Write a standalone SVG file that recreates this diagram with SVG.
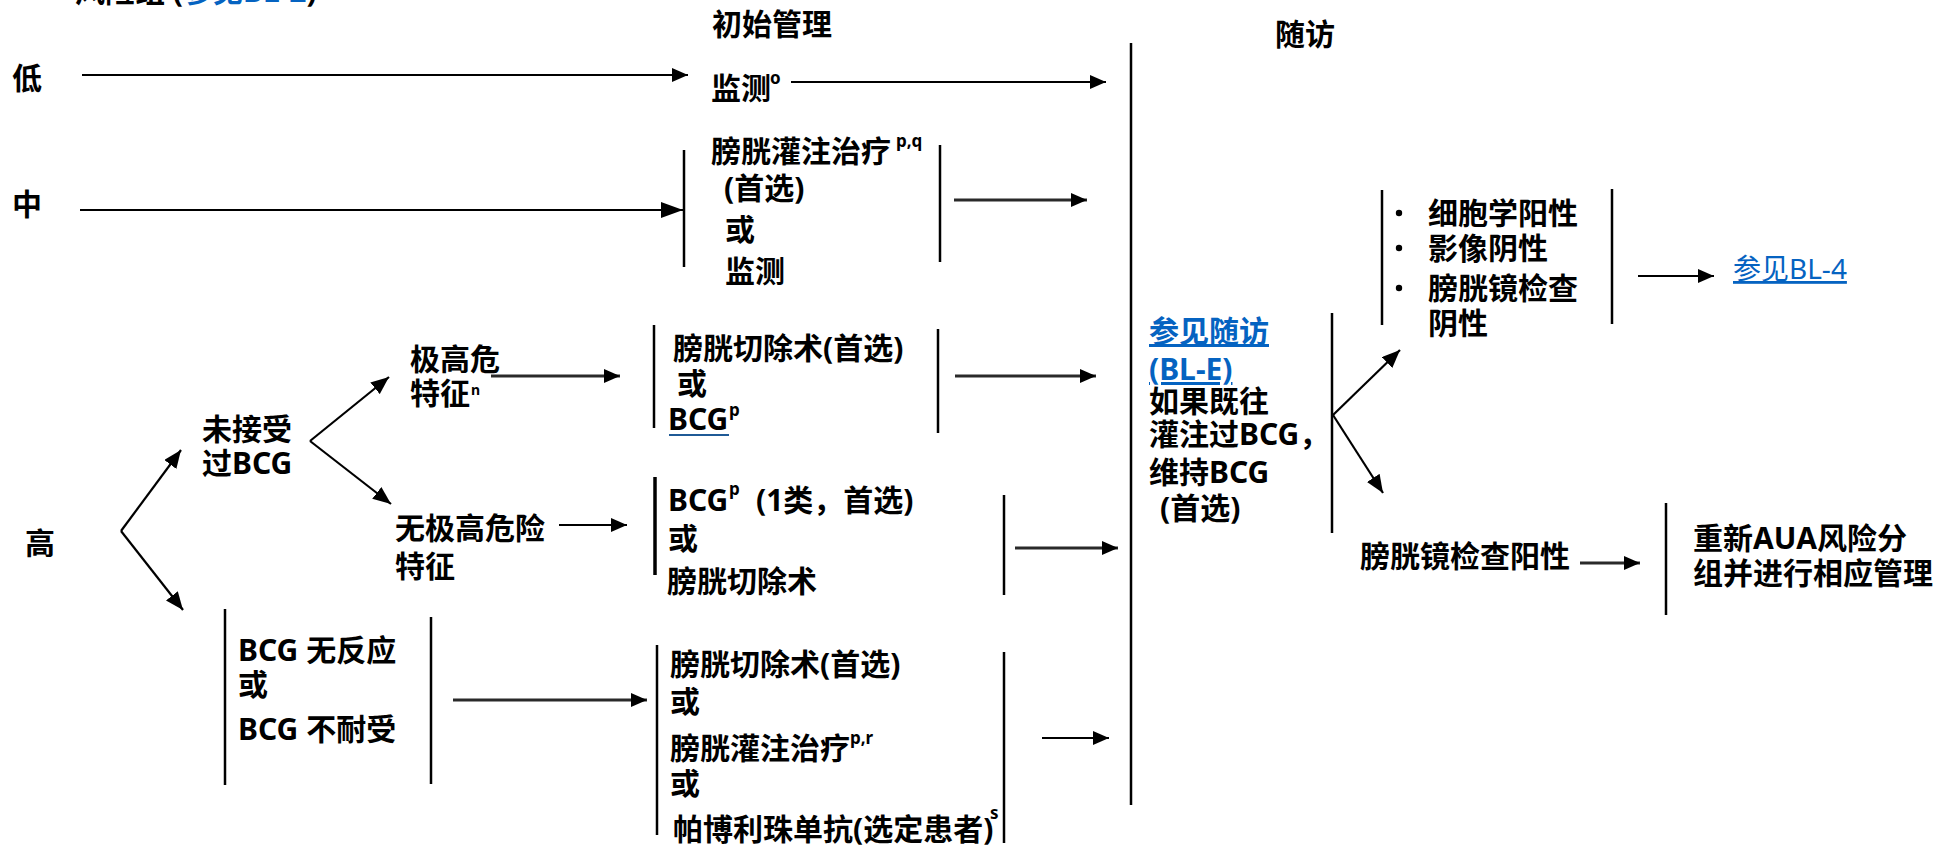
<svg xmlns="http://www.w3.org/2000/svg" width="1955" height="846" viewBox="0 0 1955 846">
<style>
  .t { font-family: "Noto Sans", "Noto Sans CJK SC", sans-serif; font-weight: bold; font-size: 30px; fill: #000; }
  .sup { font-family: "Noto Sans", sans-serif; font-weight: bold; font-size: 17px; fill: #000; }
  .lk { fill: #0563C1; }
  .lkr { font-family: "Noto Sans", "Noto Sans CJK SC", sans-serif; font-weight: normal; font-size: 28px; fill: #0563C1; }
  .bar { stroke: #000; stroke-width: 2.5; fill: none; }
  .ul { stroke: #1f5a96; stroke-width: 2; }
  .c { stroke: #000; stroke-width: 2.2; fill: none; marker-end: url(#ah); }
  .cg { stroke: #2a2a2a; stroke-width: 2.8; fill: none; marker-end: url(#ah); }
</style>
<defs>
  <marker id="ah" viewBox="0 0 16 14" refX="16" refY="7" markerWidth="16" markerHeight="14" markerUnits="userSpaceOnUse" orient="auto">
    <path d="M0,0 L16,7 L0,14 z" fill="#000"/>
  </marker>
  <marker id="ahd" viewBox="0 0 18 15" refX="18" refY="7.5" markerWidth="18" markerHeight="15" markerUnits="userSpaceOnUse" orient="auto">
    <path d="M0,0 L18,7.5 L0,15 z" fill="#000"/>
  </marker>
  <marker id="ahb" viewBox="0 0 22 16" refX="22" refY="8" markerWidth="22" markerHeight="16" markerUnits="userSpaceOnUse" orient="auto">
    <path d="M0,0 L22,8 L0,16 z" fill="#000"/>
  </marker>
</defs>
<rect width="1955" height="846" fill="#fff"/>

<g id="heading">
  <text class="t" x="75" y="2">风险组 (<tspan class="lk">参见BL-2</tspan>)</text>
</g>

<g id="col-headers">
  <text class="t" x="712" y="35">初始管理</text>
  <text class="t" x="1275" y="45">随访</text>
</g>

<g id="risk-low"><text class="t" x="12" y="89">低</text></g>
<g id="risk-mid"><text class="t" x="12" y="215">中</text></g>
<g id="risk-high"><text class="t" x="25" y="554">高</text></g>

<g id="low-mgmt">
  <text class="t" x="711" y="99">监测</text>
  <text class="sup" x="770" y="84">o</text>
</g>

<g id="mid-mgmt">
  <line class="bar" x1="684" y1="150" x2="684" y2="267"/>
  <line class="bar" x1="940" y1="145" x2="940" y2="262"/>
  <text class="t" x="711" y="162">膀胱灌注治疗</text>
  <text class="sup" x="896" y="147">p,q</text>
  <text class="t" x="724" y="199">(首选)</text>
  <text class="t" x="725" y="240">或</text>
  <text class="t" x="725" y="282">监测</text>
</g>

<g id="bcg-naive">
  <text class="t" x="202" y="440">未接受</text>
  <text class="t" x="202" y="474">过BCG</text>
</g>

<g id="very-high">
  <text class="t" x="410" y="370">极高危</text>
  <text class="t" x="410" y="404">特征</text>
  <text class="sup" x="471" y="395" style="font-size:14px">n</text>
</g>

<g id="no-very-high">
  <text class="t" x="395" y="539">无极高危险</text>
  <text class="t" x="395" y="577">特征</text>
</g>

<g id="very-high-mgmt">
  <line class="bar" x1="654" y1="325" x2="654" y2="428"/>
  <line class="bar" x1="938" y1="329" x2="938" y2="433"/>
  <text class="t" x="673" y="359">膀胱切除术(首选)</text>
  <text class="t" x="677" y="394">或</text>
  <text class="t" x="668" y="430">BCG</text>
  <line class="ul" x1="669" y1="435" x2="729" y2="435"/>
  <text class="sup" x="729" y="416">p</text>
</g>

<g id="no-very-high-mgmt">
  <line class="bar" x1="655" y1="477" x2="655" y2="575" style="stroke-width:3.5"/>
  <line class="bar" x1="1004" y1="495" x2="1004" y2="595"/>
  <text class="t" x="668" y="511">BCG</text>
  <text class="sup" x="729" y="495">p</text>
  <text class="t" x="756" y="511">(1类，首选)</text>
  <text class="t" x="668" y="549">或</text>
  <text class="t" x="667" y="592">膀胱切除术</text>
</g>

<g id="bcg-unresponsive">
  <line class="bar" x1="225" y1="609" x2="225" y2="785"/>
  <line class="bar" x1="431" y1="617" x2="431" y2="784"/>
  <text class="t" x="238" y="661">BCG 无反应</text>
  <text class="t" x="238" y="695">或</text>
  <text class="t" x="238" y="740">BCG 不耐受</text>
</g>

<g id="bcg-unresponsive-mgmt">
  <line class="bar" x1="657" y1="645" x2="657" y2="835"/>
  <line class="bar" x1="1004" y1="652" x2="1004" y2="843"/>
  <text class="t" x="670" y="675">膀胱切除术(首选)</text>
  <text class="t" x="670" y="712">或</text>
  <text class="t" x="670" y="759">膀胱灌注治疗</text>
  <text class="sup" x="850" y="744">p,r</text>
  <text class="t" x="670" y="794">或</text>
  <text class="t" x="673" y="840">帕博利珠单抗(选定患者)</text>
  <text class="sup" x="990" y="819">s</text>
</g>

<g id="followup">
  <line class="bar" x1="1131" y1="43" x2="1131" y2="805"/>
  <line class="bar" x1="1332" y1="313" x2="1332" y2="533"/>
  <text class="t lk" x="1149" y="342" text-decoration="underline">参见随访</text>
  <text class="t lk" x="1149" y="380" text-decoration="underline">(BL-E)</text>
  <text class="t" x="1149" y="412">如果既往</text>
  <text class="t" x="1149" y="445">灌注过BCG，</text>
  <text class="t" x="1149" y="483">维持BCG</text>
  <text class="t" x="1160" y="519">(首选)</text>
</g>

<g id="negative">
  <line class="bar" x1="1382" y1="190" x2="1382" y2="325"/>
  <line class="bar" x1="1612" y1="189" x2="1612" y2="324"/>
  <circle cx="1399" cy="213" r="3.2" fill="#000"/>
  <circle cx="1399" cy="248" r="3.2" fill="#000"/>
  <circle cx="1399" cy="288" r="3.2" fill="#000"/>
  <text class="t" x="1428" y="224">细胞学阳性</text>
  <text class="t" x="1428" y="259">影像阴性</text>
  <text class="t" x="1428" y="299">膀胱镜检查</text>
  <text class="t" x="1428" y="334">阴性</text>
</g>

<g id="see-bl4">
  <text class="lkr" x="1733" y="279" text-decoration="underline">参见BL-4</text>
</g>

<g id="cysto-positive">
  <text class="t" x="1360" y="567">膀胱镜检查阳性</text>
</g>

<g id="restratify">
  <line class="bar" x1="1666" y1="503" x2="1666" y2="615"/>
  <text class="t" x="1693" y="549">重新AUA风险分</text>
  <text class="t" x="1693" y="584">组并进行相应管理</text>
</g>

<g id="connectors">
  <line class="c" x1="82" y1="75" x2="688" y2="75"/>
  <line class="c" x1="80" y1="210" x2="683" y2="210" style="marker-end:url(#ahb)"/>
  <line class="c" x1="791" y1="82" x2="1106" y2="82"/>
  <line class="cg" x1="954" y1="200" x2="1087" y2="200"/>
  <line class="c" x1="121" y1="531" x2="181" y2="450" style="marker-end:url(#ahd)"/>
  <line class="c" x1="121" y1="531" x2="183" y2="610" style="marker-end:url(#ahd)"/>
  <line class="c" x1="310" y1="441" x2="389" y2="377" style="marker-end:url(#ahd)"/>
  <line class="c" x1="310" y1="441" x2="391" y2="504" style="marker-end:url(#ahd)"/>
  <line class="cg" x1="491" y1="376" x2="620" y2="376"/>
  <line class="c" x1="559" y1="525" x2="627" y2="525"/>
  <line class="cg" x1="453" y1="700" x2="647" y2="700"/>
  <line class="cg" x1="955" y1="376" x2="1096" y2="376"/>
  <line class="cg" x1="1015" y1="548" x2="1118" y2="548"/>
  <line class="c" x1="1042" y1="738" x2="1109" y2="738"/>
  <line class="c" x1="1333" y1="415" x2="1400" y2="350" style="marker-end:url(#ahd)"/>
  <line class="c" x1="1333" y1="415" x2="1383" y2="493" style="marker-end:url(#ahd)"/>
  <line class="c" x1="1638" y1="276" x2="1714" y2="276"/>
  <line class="cg" x1="1580" y1="563" x2="1640" y2="563"/>
</g>
</svg>
